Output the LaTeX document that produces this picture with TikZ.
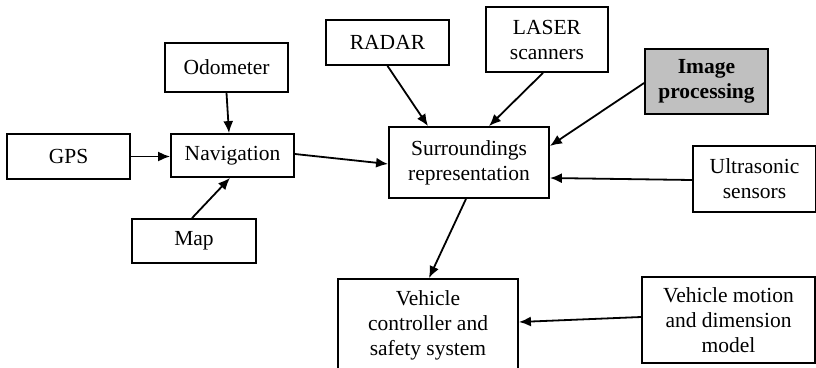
\documentclass[tikz,border=0pt]{standalone}
\usepackage{fontspec}
\setmainfont{Liberation Serif}
\usetikzlibrary{calc,arrows.meta}
\begin{document}
\begin{tikzpicture}[x=1pt,y=-1pt,
  box/.style={draw,line width=1.8pt,rectangle,align=center,inner sep=0pt,
    font=\fontsize{21.5}{25}\selectfont},
  arr/.style={line width=1.8pt,-{Latex[length=12pt,width=10pt]}}]
\useasboundingbox (0,0) rectangle (816,367);
\node[box,minimum width=123,minimum height=45] (gps) at (68.5,156.5) {GPS};
\node[box,minimum width=123,minimum height=49] (odo) at (226.5,67.5) {Odometer};
\node[box,minimum width=123,minimum height=43] (nav) at (232.5,155.5) {Navigation};
\node[box,minimum width=124,minimum height=44] (map) at (194,241) {Map};
\node[box,minimum width=123,minimum height=45] (radar) at (387.5,42.5) {RADAR};
\node[box,minimum width=122,minimum height=65] (laser) at (547,39.5) {LASER\\scanners};
\node[box,fill={rgb,255:red,192;green,192;blue,192},minimum width=123,minimum height=65] (img) at (706.5,81.5) {\bfseries Image\\\bfseries processing};
\node[box,minimum width=160,minimum height=71] (surr) at (469,162.5) {Surroundings\\representation};
\node[box,minimum width=123,minimum height=66] (ultra) at (754.5,179) {Ultrasonic\\sensors};
\node[box,minimum width=180,minimum height=93] (vc) at (428,325.5) {Vehicle\\controller and\\safety system};
\node[box,minimum width=173,minimum height=86] (vm) at (728.5,320) {Vehicle motion\\and dimension\\model};
\draw[arr] (gps.east) -- (gps.east -| nav.west);
\draw[arr] (odo.south) -- ($(nav.north)+(-3.5,0)$);
\draw[arr] ($(map.north)+(-2,0)$) -- ($(nav.south)+(-2.5,0)$);
\draw[arr] ($(nav.east)+(0,-1.5)$) -- ($(surr.west)+(0,1.5)$);
\draw[arr] (radar.south) -- ($(surr.north)+(-41,0)$);
\draw[arr] ($(laser.south)+(-4,0)$) -- ($(surr.north)+(20,0)$);
\draw[arr] ($(img.west)+(0,1.5)$) -- ($(surr.east)+(0,-16.5)$);
\draw[arr] ($(ultra.west)+(0,1)$) -- ($(surr.east)+(0,15.5)$);
\draw[arr] ($(surr.south)+(-3,0)$) -- ($(vc.north)+(1,0)$);
\draw[arr] ($(vm.west)+(0,-3)$) -- ($(vc.east)+(0,-3.5)$);
\end{tikzpicture}
\end{document}
